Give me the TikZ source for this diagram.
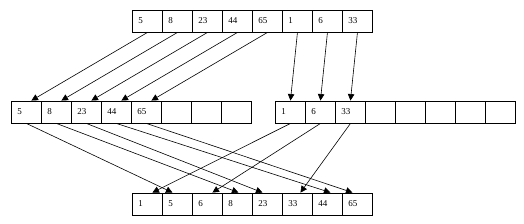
\documentclass[tikz,border=0pt]{standalone}
\usepackage{fontspec}
\setmainfont{Liberation Serif}
\usetikzlibrary{arrows.meta}
\begin{document}
\begin{tikzpicture}[x=1pt,y=-1pt,
  cell/.style={draw,line width=0.9pt,minimum width=30pt,minimum height=22pt,
    inner xsep=6pt,text width=18pt,align=left,font=\fontsize{9}{10}\selectfont,anchor=west},
  conn/.style={line width=0.6pt,-{Triangle[length=6.5pt,width=6.5pt]}}]
\useasboundingbox (0,0) rectangle (524,223);
% top array
\foreach \v [count=\i] in {5,8,23,44,65,1,6,33}
  \node[cell] (t\i) at ({132+30*(\i-1)},21) {\v};
% middle left
\foreach \v [count=\i] in {5,8,23,44,65,,,}
  \node[cell] (l\i) at ({11+30*(\i-1)},112) {\v};
% middle right
\foreach \v [count=\i] in {1,6,33,,,,,}
  \node[cell] (r\i) at ({275+30*(\i-1)},112) {\v};
% bottom
\foreach \v [count=\i] in {1,5,6,8,23,33,44,65}
  \node[cell] (b\i) at ({132+30*(\i-1)},204) {\v};
% top to middle
\foreach \i in {1,...,5}
  \draw[conn] (t\i.south) -- ([xshift=5pt]l\i.north);
\draw[conn] (t6.south) -- (r1.north);
\draw[conn] (t7.south) -- (r2.north);
\draw[conn] (t8.south) -- (r3.north);
% middle to bottom
\draw[conn] (r1.south) -- ([xshift=5pt]b1.north);
\draw[conn] (l1.south) -- ([xshift=-5pt]b2.north);
\draw[conn] (r2.south) -- ([xshift=5pt]b3.north);
\draw[conn] (l2.south) -- ([xshift=1pt]b4.north);
\draw[conn] (l3.south) -- ([xshift=-5pt]b5.north);
\draw[conn] (r3.south) -- ([xshift=3pt]b6.north);
\draw[conn] (l4.south) -- ([xshift=3pt]b7.north);
\draw[conn] (l5.south) -- ([xshift=-5pt]b8.north);
\end{tikzpicture}
\end{document}
